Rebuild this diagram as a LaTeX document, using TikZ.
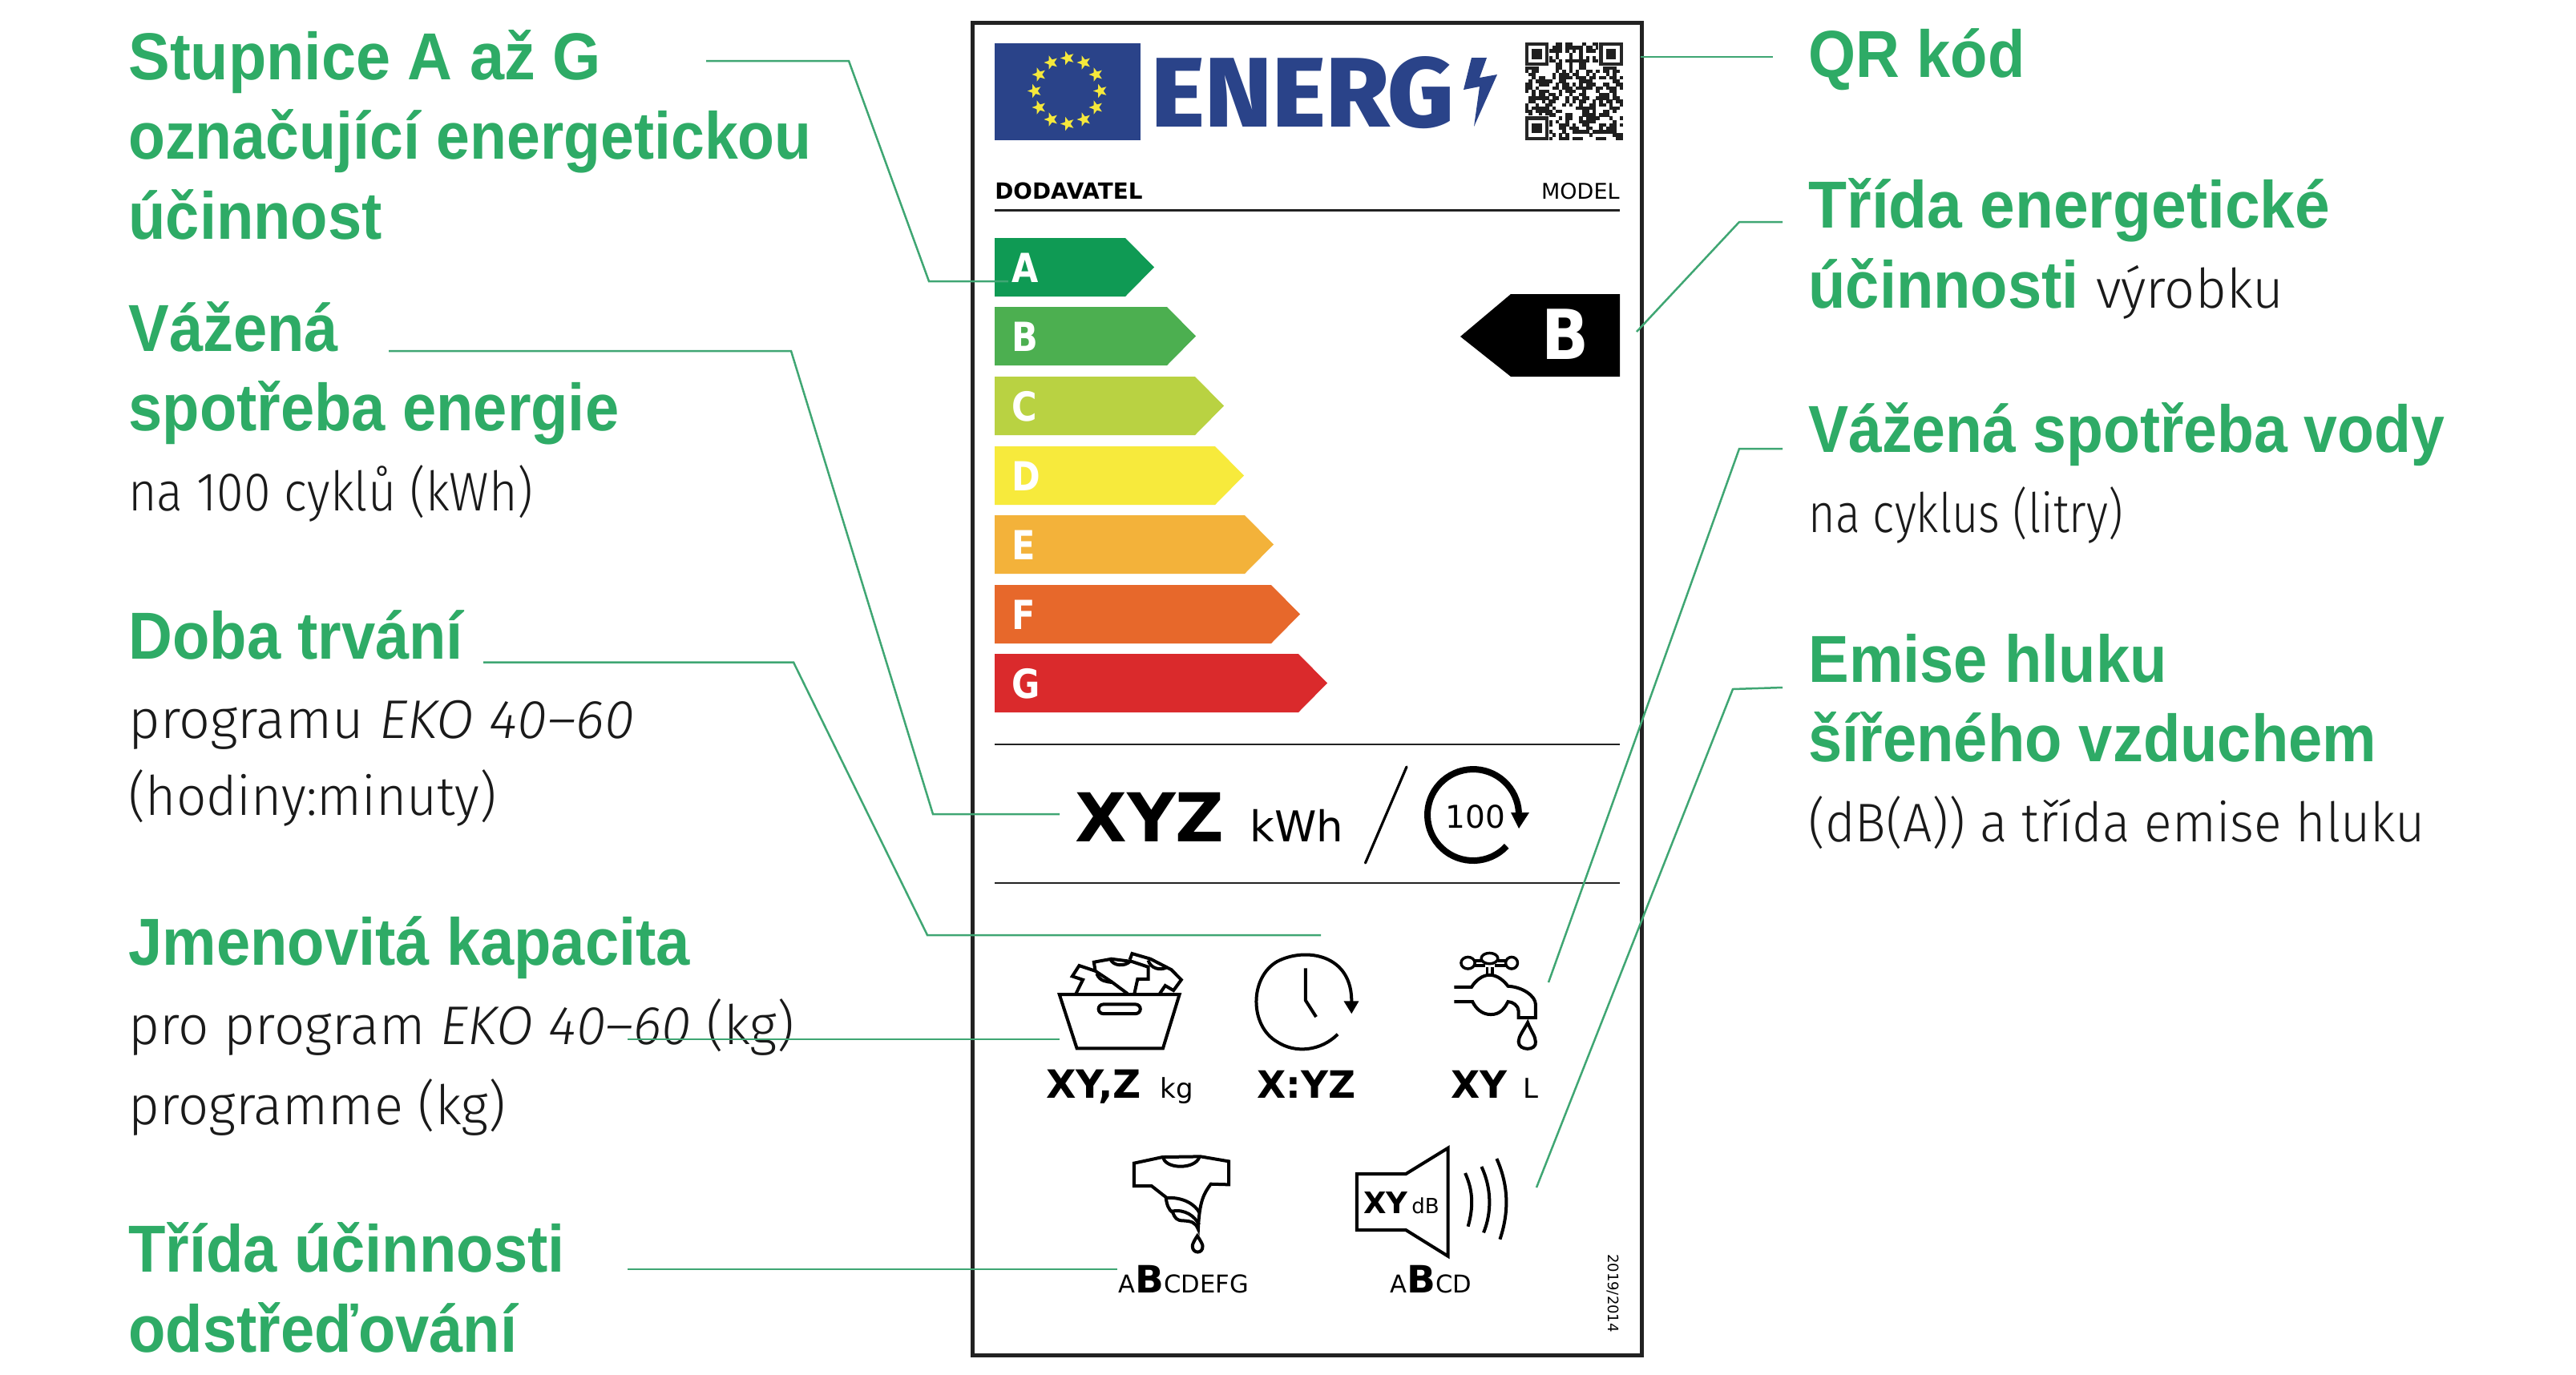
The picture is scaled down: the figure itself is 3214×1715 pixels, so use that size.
\documentclass[tikz,border=0pt]{standalone}
\usepackage{fontspec}
\usepackage{graphicx}
\usetikzlibrary{shapes.geometric}
\setmainfont{DejaVu Sans}
\newfontfamily\gfont[FakeStretch=0.915]{Liberation Sans}
\newfontfamily\lfont[FakeStretch=0.985]{Fira Sans Light}
\newfontfamily\logofont{Fira Sans ExtraBold}
\definecolor{gtext}{HTML}{2EAB66}
\definecolor{gline}{HTML}{3FA673}
\definecolor{btext}{HTML}{1A1A1A}
\definecolor{frame}{HTML}{222222}
\definecolor{eublue}{HTML}{2A4389}
\definecolor{eustar}{HTML}{F5E83C}
\definecolor{ca}{HTML}{0F9A54}
\definecolor{cb}{HTML}{4CAF50}
\definecolor{cc}{HTML}{B9D242}
\definecolor{cd}{HTML}{F7EA3C}
\definecolor{ce}{HTML}{F3B23A}
\definecolor{cf}{HTML}{E7682B}
\definecolor{cg}{HTML}{DA2A2C}
\newcommand{\Gt}{\gfont\bfseries\fontsize{41.5}{49.75}\selectfont\color{gtext}}
\newcommand{\Bt}{\lfont\mdseries\fontsize{34}{49.75}\selectfont\color{btext}}
\newcommand{\Sz}[1]{\fontsize{#1}{#1}\selectfont}
\newcommand{\Hs}[2]{\scalebox{#1}[1]{#2}}
\tikzset{
  lbl/.style={anchor=base west,inner sep=0pt,align=left,font=\fontsize{41.5}{49.75}\selectfont},
  tx/.style={anchor=base west,inner sep=0pt,text=black},
  txc/.style={anchor=base,inner sep=0pt,text=black},
  conn/.style={draw=gline,line width=1.25pt,line join=miter},
  sep/.style={draw=frame,line width=1.25pt},
  icon/.style={draw=black,line width=2pt,line join=miter,fill=none},
  band/.style={inner sep=0pt,text=white,anchor=base west,font=\bfseries\Sz{25}},
  eustarnode/.style={star,star points=5,star point ratio=2.4,fill=eustar,inner sep=0pt,minimum size=9pt,draw=none,shape border rotate=90},
}
\begin{document}
\begin{tikzpicture}[x=0.5pt,y=-0.5pt]
\useasboundingbox (0,0) rectangle (3214,1715);
\fill[white] (0,0) rectangle (3214,1715);
% frame
\draw[draw=frame,line width=2.5pt] (1213,28) rectangle (2048,1691);
% flag
\fill[eublue] (1241,54) rectangle (1423,175);
\foreach \a [count=\n] in {0,30,...,330}{
  \node[eustarnode] (star\n) at ({1332+41*cos(\a)},{113.5+41*sin(\a)}) {};
}
% logo
\node[inner sep=0pt,anchor=north west,text=eublue] (logo) at (1436,70) {\resizebox{189pt}{44pt}{\logofont ENERG}};
\fill[eublue] (1836,72) -- (1826,112) -- (1846,108) -- (1839,158) -- (1868,93) -- (1846,97) -- (1855,72) -- cycle;
% QR
\begin{scope}
\pgfmathsetseed{20194}
\foreach \i in {0,...,28}{
 \foreach \j in {0,...,28}{
  \pgfmathtruncatemacro{\on}{rnd<0.52?1:0}
  \ifnum\on=1
   \fill[black!88] ({1903+\i*4.2},{53+\j*4.2}) rectangle ++(4.3,4.3);
  \fi
 }
}
\foreach \ox/\oy in {1903/53,1995.4/53,1903/145.4}{
  \fill[white] (\ox-1,\oy-1) rectangle ++(31.4,31.4);
  \fill[black!85] (\ox,\oy) rectangle ++(29.4,29.4);
  \fill[white] (\ox+4.2,\oy+4.2) rectangle ++(21,21);
  \fill[black!88] (\ox+8.4,\oy+8.4) rectangle ++(12.6,12.6);
}
\end{scope}
% header
\node[tx] (dodavatel) at (1241,248) {\bfseries\Sz{13.9}DODAVATEL};
\node[anchor=base east,inner sep=0pt] (model) at (2021,248) {\Sz{13.5}MODEL};
\draw[sep,line width=1.5pt] (1241,262) -- (2021,262);
% scale
\foreach \nm/\col/\top/\tip in {A/ca/297/1440,B/cb/383/1492,C/cc/470/1527,D/cd/557/1552,E/ce/643/1589,F/cf/730/1622,G/cg/816/1656}{
  \fill[\col] (1241,\top) -- ({\tip-36},\top) -- (\tip,\top+36.5) -- ({\tip-36},\top+73) -- (1241,\top+73) -- cycle;
  \node[band,xscale=0.86] (let\nm) at (1262,\top+55) {\nm};
}
% black class arrow
\fill[black] (1822,420) -- (1885,367) -- (2021,367) -- (2021,470) -- (1885,470) -- cycle;
\node[txc,text=white,xscale=0.9] (classb) at (1953,448) {\bfseries\Sz{43}B};
% separators
\draw[sep] (1241,929) -- (2021,929);
\draw[sep] (1241,1102) -- (2021,1102);
% consumption
\node[tx] (xyz) at (1341,1050) {\bfseries\Sz{42}XYZ};
\node[tx] (kwh) at (1559,1050) {\Sz{26.5}kWh};
\draw[black,line width=1.6pt,line cap=round] (1755,957) -- (1703.5,1077);
\draw[black,line width=4pt] (1879.7,1055.9) arc[start angle=43,end angle=357,radius=57];
\fill[black] (1885,1014) -- (1908,1014) -- (1895,1034) -- cycle;
\node[tx] (hundred) at (1803,1033) {\Sz{19.5}100};
% basket icon
\begin{scope}[shift={(1180,900)},x=0.287pt,y=-0.1667pt]
\draw[icon] (247,1023) -- (508,1023) -- (472,1225) -- (285,1225) -- cycle;
\draw[icon,rounded corners=3pt] (332,1060) rectangle (423,1095);
\draw[icon] (283,1020) -- (298,968) -- (275,955) -- (290,915) -- (325,935) -- (360,975) -- (395,1020);
\draw[icon] (325,935) -- (322,902) -- (360,890) -- (405,900) -- (440,920) -- (440,965) -- (417,965) -- (410,1020);
\draw[icon] (328,945) .. controls (335,975) and (350,975) .. (362,978);
\draw[icon] (358,892) .. controls (365,918) and (390,918) .. (400,900);
\draw[icon] (400,893) -- (405,870) -- (445,890) -- (490,930) -- (512,968) -- (495,1008) -- (477,990) -- (465,1020);
\draw[icon] (440,895) .. controls (445,925) and (465,935) .. (480,922);
% clock
\draw[icon] (782,925) -- (782,1045) -- (805,1107);
\draw[icon] (852,1172) .. controls (815,1235) and (760,1245) .. (720,1200) .. controls (660,1140) and (660,960) .. (720,900) .. controls (780,845) and (885,870) .. (882,1055);
\fill[black] (865,1048) -- (898,1048) -- (882,1095) -- cycle;
% tap
\draw[icon,line width=1.7pt] (1135,905) ellipse[x radius=15,y radius=22];
\draw[icon,line width=1.7pt] (1230,905) ellipse[x radius=13,y radius=22];
\draw[icon,line width=1.7pt] (1182,888) ellipse[x radius=18,y radius=20];
\draw[icon,line width=1.7pt] (1150,897) -- (1165,897) (1150,915) -- (1172,915) (1200,897) -- (1217,897) (1193,915) -- (1217,915);
\draw[icon,line width=1.7pt] (1177,920) -- (1177,950) (1188,920) -- (1188,950);
\draw[icon] (1105,995) -- (1143,995) .. controls (1150,975) and (1165,950) .. (1182,950) .. controls (1200,950) and (1215,975) .. (1222,992) .. controls (1255,995) and (1282,1030) .. (1282,1060) -- (1282,1110) -- (1245,1110) -- (1245,1085) .. controls (1245,1065) and (1232,1050) .. (1222,1050) .. controls (1215,1075) and (1205,1098) .. (1185,1098) .. controls (1165,1098) and (1152,1075) .. (1145,1050) -- (1105,1050);
\draw[icon] (1265,1128) .. controls (1255,1160) and (1245,1180) .. (1245,1200) .. controls (1245,1235) and (1285,1235) .. (1282,1200) .. controls (1282,1180) and (1272,1160) .. (1265,1128) -- cycle;
\end{scope}
% icon values
\node[tx] (xyzkg) at (1305,1370) {\bfseries\Sz{24.3}XY,Z};
\node[tx] (kg) at (1447,1370) {\Sz{17}kg};
\node[tx] (xtime) at (1568,1370) {\bfseries\Sz{23.5}X:YZ};
\node[tx] (xyl) at (1810,1370) {\bfseries\Sz{23.5}XY};
\node[tx] (liter) at (1900,1370) {\Sz{17}L};
% shirt + speaker
\begin{scope}[shift={(1300,1380)},x=0.2551pt,y=-0.1667pt]
\draw[icon] (295,192) -- (388,190) -- (457,208) -- (457,295) -- (413,293) .. controls (395,330) and (385,360) .. (382,462) .. controls (375,435) and (365,432) .. (345,430) .. controls (330,430) and (325,420) .. (320,400) .. controls (310,390) and (305,370) .. (303,342) -- (268,300) -- (225,300) -- (225,215) -- cycle;
\draw[icon] (297,196) .. controls (305,238) and (375,238) .. (385,192);
\draw[icon] (303,345) .. controls (345,340) and (375,370) .. (385,400);
\draw[icon] (318,395) .. controls (350,385) and (375,415) .. (384,445);
\draw[icon] (380,487) .. controls (370,510) and (368,520) .. (368,525) .. controls (368,555) and (394,555) .. (393,525) .. controls (393,520) and (390,510) .. (380,487) -- cycle;
\draw[icon] (770,255) -- (890,255) -- (993,158) -- (993,563) -- (890,465) -- (770,465) -- cycle;
\draw[icon] (1035,252) .. controls (1055,320) and (1055,380) .. (1042,452);
\draw[icon] (1075,228) .. controls (1100,310) and (1100,400) .. (1080,475);
\draw[icon] (1112,198) .. controls (1142,300) and (1142,400) .. (1120,500);
\end{scope}
\node[tx] (xydb) at (1701,1514) {\bfseries\Sz{18.5}XY};
\node[tx] (db) at (1761,1514) {\Sz{13}dB};
\node[tx] (spin) at (1395,1613) {\Sz{15.3}A\bfseries\Sz{23.5}B\mdseries\Sz{15.3}CDEFG};
\node[tx] (noise) at (1734,1613) {\Sz{15.3}A\bfseries\Sz{23.5}B\mdseries\Sz{15.3}CD};
\node[inner sep=0pt,rotate=-90] (year) at (2012,1614) {\Sz{9}2019/2014};
% left labels
\node[lbl] (l1) at (160,298) {\Gt\Hs{1.02}{Stupnice A až G}\\\Gt\Hs{0.99}{označující energetickou}\\\Gt účinnost};
\node[lbl] (l2) at (160,637) {\Gt Vážená\\\Gt spotřeba energie\\\Bt\Hs{0.91}{na 100 cyklů (kWh)}};
\node[lbl] (l3) at (160,1017) {\Gt Doba trvání\\\Bt\Hs{1.02}{programu \textit{EKO 40–60}}\\[-2pt]\Bt\Hs{0.98}{(hodiny:minuty)}};
\node[lbl] (l4) at (160,1403) {\Gt Jmenovitá kapacita\\\Bt\Hs{1.005}{pro program \textit{EKO 40–60} (kg)}\\\Bt programme (kg)};
\node[lbl] (l5) at (160,1687) {\Gt Třída účinnosti\\\Gt odstřeďování};
% right labels
\node[lbl] (r1) at (2256,96) {\Gt QR kód};
\node[lbl] (r2) at (2256,384) {\Gt\Hs{1.035}{Třída energetické}\\\Gt účinnosti {\Bt výrobku}};
\node[lbl] (r3) at (2256,664) {\Gt\Hs{0.99}{Vážená spotřeba vody}\\\Bt\Hs{0.86}{na cyklus (litry)}};
\node[lbl] (r4) at (2256,1050) {\Gt Emise hluku\\\Gt šířeného vzduchem\\\Bt\Hs{0.96}{(dB(A)) a třída emise hluku}};
% connector anchors
\coordinate (c1a) at (881,76); \coordinate (c1b) at (1059,76); \coordinate (c1c) at (1159,351); \coordinate (c1d) at (1258,351);
\coordinate (c2a) at (485,438); \coordinate (c2b) at (987,438); \coordinate (c2c) at (1164,1016); \coordinate (c2d) at (1322,1016);
\coordinate (c3a) at (603,826.5); \coordinate (c3b) at (990,826.5); \coordinate (c3c) at (1157,1167); \coordinate (c3d) at (1648,1167);
\coordinate (c4a) at (783,1297); \coordinate (c4b) at (1322,1297);
\coordinate (c5a) at (783,1584); \coordinate (c5b) at (1394,1584);
\coordinate (c6a) at (2047,71); \coordinate (c6b) at (2212,71);
\coordinate (c7a) at (2042,414); \coordinate (c7b) at (2170,277); \coordinate (c7c) at (2224,277);
\coordinate (c8a) at (1932,1226); \coordinate (c8b) at (2170,560); \coordinate (c8c) at (2224,560);
\coordinate (c9a) at (1917,1482); \coordinate (c9b) at (2162,860); \coordinate (c9c) at (2224,858);
\draw[conn] (c1a) -- (c1b) -- (c1c) -- (c1d);
\draw[conn] (c2a) -- (c2b) -- (c2c) -- (c2d);
\draw[conn] (c3a) -- (c3b) -- (c3c) -- (c3d);
\draw[conn] (c4a) -- (c4b);
\draw[conn] (c5a) -- (c5b);
\draw[conn] (c6a) -- (c6b);
\draw[conn] (c7a) -- (c7b) -- (c7c);
\draw[conn] (c8a) -- (c8b) -- (c8c);
\draw[conn] (c9a) -- (c9b) -- (c9c);
\end{tikzpicture}
\end{document}
